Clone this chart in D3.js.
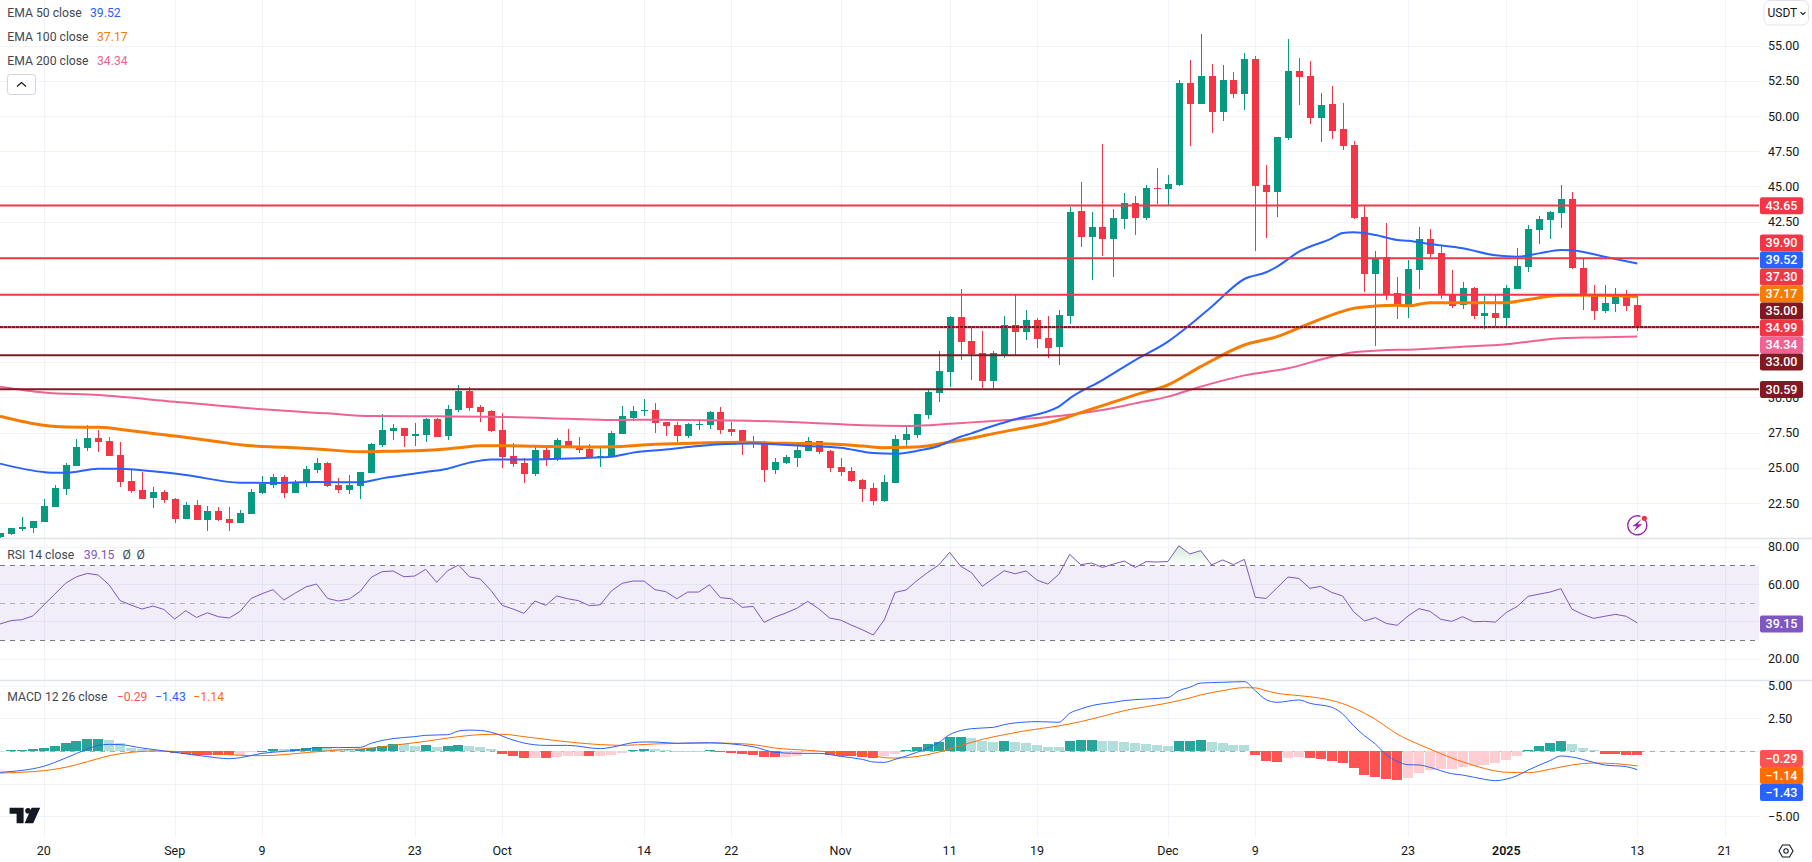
<!DOCTYPE html>
<html><head><meta charset="utf-8">
<script src="https://cdn.jsdelivr.net/npm/d3@7/dist/d3.min.js"></script>
<style>html,body{margin:0;padding:0;background:#fff;overflow:hidden}svg{display:block}text{font-family:Roboto,"Noto Sans",sans-serif}</style>
</head><body><svg id="c" width="1812" height="862"></svg>
<script>
// ---------- data; candle n is day n+firstDay, day 0 = 20 Aug 2024 ----------
const firstDay=-4;
const opens=[20.08,20.30,20.65,20.72,21.15,22.22,23.49,25.13,26.41,27.12,26.91,25.91,24.06,23.42,22.86,23.28,22.79,21.36,22.36,21.29,21.93,21.36,21.08,21.72,23.21,23.78,24.35,23.21,23.92,24.85,25.34,23.78,23.42,23.71,24.63,26.62,27.62,27.83,27.26,27.33,28.47,27.26,29.11,30.46,29.32,29.04,27.69,25.84,25.34,24.56,26.27,25.63,26.91,26.55,26.34,25.70,25.77,27.40,28.54,29.04,29.11,28.26,28.04,27.26,28.04,28.04,28.97,27.76,27.69,26.69,26.83,24.85,25.34,25.70,26.2,26.91,26.2,25.06,24.77,24.13,23.57,22.64,23.92,26.98,27.33,28.75,30.32,31.81,35.72,34.01,33.16,31.17,33.02,35.15,34.65,35.51,34.23,33.59,35.79,43.25,41.40,42.12,41.26,42.68,43.82,42.76,44.89,44.82,45.10,52.35,50.86,52.85,50.29,52.56,51.57,54.06,45.10,44.60,48.44,53.20,52.85,49.86,50.86,49.08,47.94,42.83,38.78,39.98,37.43,36.5,39.06,41.26,40.27,37.35,36.57,37.78,35.79,36.0,35.65,37.71,39.27,41.9,42.61,43.11,44.1,39.2,37.35,36.15,36.64,37.14,36.57];
const highs=[20.37,20.72,21.50,21.22,22.79,23.76,25.34,27.05,28.04,27.69,27.19,26.83,24.85,24.70,23.64,23.42,22.86,22.57,22.71,22.29,22.22,22.22,22.0,23.49,24.42,24.56,24.49,24.13,25.13,25.70,25.41,24.28,24.49,24.70,26.76,28.82,28.11,27.83,28.18,28.54,28.54,29.46,30.89,30.74,29.46,29.11,28.9,26.76,25.70,26.48,26.55,27.12,27.76,27.19,26.69,26.41,27.62,29.39,29.39,29.89,29.61,28.26,28.26,28.18,28.47,29.04,29.32,28.26,27.69,27.26,26.91,25.70,25.91,26.55,27.19,26.91,26.27,25.70,25.06,24.2,23.92,24.49,27.33,28.04,28.82,30.53,33.3,35.79,37.71,35.08,34.72,33.3,35.79,37.35,36.22,35.65,35.79,36.22,43.54,45.31,43.18,48.01,43.4,44.53,44.32,45.10,46.31,45.81,52.56,53.98,55.83,53.70,53.63,53.13,54.48,54.27,46.52,48.51,55.48,54.13,53.91,51.64,52.14,50.93,48.23,43.61,40.41,42.40,38.56,39.77,42.11,41.97,40.76,39.06,38.2,37.85,37.21,37.35,37.99,40.62,42.26,42.9,43.25,45.1,44.6,39.84,37.99,37.99,37.78,37.64,37.21];
const lows=[20.0,20.22,20.53,20.39,21.15,22.22,23.07,25.13,26.2,26.12,25.84,23.64,23.21,22.79,22.14,22.5,21.08,21.36,21.29,20.51,21.22,20.51,21.08,21.72,23.14,23.57,22.86,23.21,23.64,24.63,23.64,23.21,23.14,22.79,24.63,26.48,26.98,26.48,26.55,26.83,27.19,26.98,28.97,29.04,28.26,27.55,24.99,25.06,23.92,24.42,25.13,25.48,26.48,26.05,25.70,25.06,25.77,27.40,28.33,28.68,27.47,27.26,26.83,27.12,27.69,27.76,27.40,27.26,25.91,26.41,23.99,24.56,25.27,25.06,26.2,25.98,24.70,24.42,23.99,22.57,22.36,22.57,23.92,26.55,27.12,28.47,29.68,30.74,32.66,31.24,30.67,30.6,32.81,33.02,34.09,33.51,32.81,32.31,35.22,40.69,38.35,40.06,38.56,41.97,41.55,42.61,43.75,43.68,45.03,47.87,50.86,48.8,49.65,51.28,50.43,40.41,41.33,42.83,48.3,50.79,49.44,48.16,48.37,47.59,42.68,37.5,33.66,36.93,35.58,35.65,37.71,39.98,37.0,36.36,36.29,35.58,34.87,35.0,35.0,37.71,38.92,40.91,41.26,42.04,39.13,36.22,35.5,36.0,36.07,36.15,34.73];
const closes=[20.37,20.72,20.79,21.22,22.29,23.57,25.20,26.48,27.12,26.83,25.84,23.99,23.35,22.79,23.28,22.71,21.36,22.36,21.29,21.93,21.29,21.08,21.79,23.28,23.87,24.35,23.21,23.99,24.92,25.34,23.71,23.42,23.78,24.70,26.69,27.69,27.83,27.26,27.40,28.47,27.19,29.18,30.46,29.25,28.97,27.62,25.77,25.27,24.56,26.27,25.58,26.98,26.48,26.27,25.70,25.84,27.47,28.68,29.04,29.11,28.18,27.97,27.26,28.11,28.11,28.97,27.69,27.55,26.69,26.83,24.85,25.41,25.77,26.27,26.91,26.12,24.99,24.70,24.06,23.49,22.64,23.99,27.05,27.40,28.82,30.39,31.88,35.72,33.94,33.09,31.17,33.16,35.15,34.65,35.51,34.16,33.51,35.86,43.18,41.40,42.12,41.26,42.76,43.82,42.76,44.89,44.82,45.17,52.35,50.86,52.85,50.29,52.56,51.57,54.06,45.03,44.60,48.51,53.20,52.78,49.86,50.79,48.94,47.87,42.76,38.78,39.91,37.35,36.5,39.13,41.26,40.2,37.35,36.5,37.78,35.79,36.0,35.65,37.78,39.34,41.97,42.68,43.18,44.1,39.2,37.35,36.15,36.71,37.14,36.5,34.99];

const ema50Days=[-4,0,1,2,5,7,10,13,18,21,25,29,31,35,37,39,41,44,50,52,54,57,60,62,65,70,73,76,78,80,82,84,85,87,89,93,94,97,100,103,105,107,110,112,113,115,118,119,120,122,124,125,127,130,133,135,137,139,140,143,146];
const ema50=[25.3,24.7,24.65,24.65,24.94,24.94,24.75,24.49,23.94,23.92,23.99,23.97,24.25,24.7,24.94,25.37,25.6,25.6,25.72,25.79,26.08,26.3,26.55,26.67,26.72,26.55,26.43,26.05,26.0,26.2,26.55,27.21,27.45,27.99,28.45,29.35,29.94,31.24,32.66,33.97,35.15,36.45,38.42,38.9,39.3,40.36,41.31,41.69,41.74,41.55,41.19,41.14,40.9,40.6,40.1,40.0,40.24,40.48,40.46,40.0,39.52];
const ema100Days=[-4,0,2,5,8,12,16,18,22,25,29,31,36,38,40,42,45,50,52,56,61,64,68,72,75,77,79,81,83,85,87,93,95,97,100,103,106,110,113,116,119,120,122,124,125,127,130,134,136,139,142,146];
const ema100=[28.66,28.02,27.9,27.88,27.64,27.26,26.86,26.64,26.46,26.34,26.15,26.17,26.29,26.43,26.57,26.57,26.53,26.48,26.5,26.67,26.79,26.81,26.74,26.69,26.55,26.43,26.46,26.55,26.83,27.1,27.43,28.4,28.92,29.42,30.18,30.89,32.19,33.73,34.32,35.27,36.12,36.33,36.5,36.55,36.52,36.74,36.74,36.74,36.97,37.26,37.26,37.17];
const ema200Days=[-4,0,5,12,20,26,30,36,41,48,52,56,63,70,75,79,81,83,85,87,93,97,100,103,106,110,114,118,120,123,125,130,134,136,139,142,146];
const ema200=[30.77,30.36,30.17,29.70,29.16,28.87,28.68,28.66,28.63,28.49,28.4,28.42,28.37,28.21,28.02,27.97,28.02,28.14,28.23,28.33,28.68,29.11,29.58,30.06,30.77,31.57,32.07,32.9,33.21,33.37,33.4,33.61,33.78,33.96,34.2,34.27,34.34];

const levelsRed=[43.65,39.90,37.30,34.99];
const levelsDark=[35.00,33.00,30.59];

const rsi=[38.6,40.4,40.9,42.9,48.75,54.5,60.4,63.9,65.7,64.8,59.5,51.1,48.75,46.6,48.2,46.4,41.25,45.7,42.1,44.6,42.5,41.8,45.4,52.3,54.8,57.0,51.4,55,58.4,60,52.3,50.9,52,56.1,63.6,66.6,67,63.9,64.3,67.9,60.9,67.1,70.2,63.9,62.7,56.4,48.6,46.6,44.3,50.9,48.6,53.6,52.1,51.1,48.4,48.9,56.25,60.4,61.6,61.6,57,55.9,52.1,55.7,55.7,59.6,52.7,52.1,47.5,48,39.5,42.3,44.5,47,50.7,46.8,41.8,40.7,38,35.5,32.7,40.7,55.5,56.8,61.8,66.25,70.2,77,69.6,66.1,58.75,63,67.1,65.5,67,62.1,60,65.2,75.9,70.4,71.25,68.9,70.7,72.3,68.9,72,71.8,72.1,80.5,76.1,77.9,70.2,72.9,70.4,73.2,52.9,52.3,58,63.75,63,57.7,58.75,55.5,53.6,45.2,40.2,42,38.9,37.9,42.9,46.8,45.4,41.1,40,42.5,39.8,40,39.6,44.8,48,53.4,54.6,55.7,57.5,46.6,43.75,41.6,42.7,43.75,42.7,39.15];

const hist=[-.07,.05,.1,.18,.26,.41,.64,.79,.93,.95,.87,.64,.23,.15,.1,.03,-.18,-.26,-.28,-.29,-.33,-.34,-.28,-.1,.02,.18,.15,.19,.26,.33,.26,.18,.15,.18,.26,.38,.52,.51,.41,.43,.33,.41,.49,.41,.33,.18,-.2,-.36,-.51,-.5,-.52,-.43,-.36,-.35,-.37,-.36,-.28,-.13,.1,.18,.17,.08,.03,.02,.01,.05,-.05,-.13,-.2,-.28,-.43,-.44,-.43,-.42,-.1,-.05,-.28,-.36,-.41,-.43,-.51,-.41,-.2,.1,.33,.56,.72,1.1,1.11,1.02,.79,.72,.73,.72,.64,.49,.33,.32,.79,.87,.88,.79,.78,.72,.64,.56,.49,.41,.79,.8,.87,.72,.64,.49,.48,-.28,-.74,-.82,-.51,-.43,-.51,-.59,-.74,-.89,-1.28,-1.81,-1.97,-2.12,-2.2,-2.04,-1.66,-1.43,-1.35,-1.34,-1.2,-1.12,-1.05,-.89,-.66,-.36,.1,.41,.64,.79,.56,.26,.05,-.2,-.21,-.27,-.29];

const macdDays=[-4,0,2,4,5,6,7,9,12,15,17,18,20,22,24,25,27,29,30,32,34,35,37,38,39,40,41,43,44,46,48,51,52,54,55,56,58,61,63,65,67,69,71,73,75,76,77,78,80,82,83,84,85,87,88,90,91,93,94,95,96,98,99,101,103,104,105,106,108,110,111,112,113,115,116,118,119,120,121,122,123,124,125,126,127,129,130,132,133,134,135,136,138,139,140,142,143,145,146];
const macdLine=[-1.63,-1.17,-.54,.15,.43,.51,.49,.23,-.1,-.43,-.59,-.51,-.18,-.03,.13,.26,.26,.28,.59,.95,1.1,1.2,1.25,1.53,1.6,1.58,1.43,.84,.61,.43,.43,.18,.28,.64,.69,.69,.59,.64,.54,.33,-.1,-.18,-.18,-.41,-.64,-.84,-.87,-.64,-.1,.64,1.25,1.56,1.71,1.81,2.02,2.22,2.25,2.2,2.89,3.22,3.47,3.73,3.86,3.98,4.09,4.62,4.88,5.2,5.26,5.31,4.62,3.93,3.73,3.91,3.65,3.35,2.84,1.94,1.17,.54,-.28,-.79,-1.05,-1.07,-1.25,-1.74,-1.84,-2.17,-2.27,-2.15,-1.89,-1.46,-.74,-.38,-.46,-.87,-1.07,-1.2,-1.43];
const signalDays=[-4,-1,0,2,4,6,8,10,12,15,18,20,24,27,29,32,35,38,41,42,44,47,51,53,56,61,63,65,67,70,73,76,77,78,81,82,84,86,88,90,93,95,97,99,103,105,106,108,110,111,112,113,115,117,119,120,122,124,125,127,129,131,133,134,136,138,140,142,144,146];
const signalLine=[-1.69,-1.58,-1.51,-1.25,-.82,-.36,-.1,0,-.03,-.18,-.33,-.36,-.13,.08,.15,.43,.74,1.1,1.28,1.28,1.1,.79,.49,.43,.54,.61,.59,.49,.23,.05,-.13,-.36,-.51,-.54,-.28,-.08,.41,.89,1.25,1.56,1.92,2.25,2.66,3.09,3.68,4.06,4.29,4.62,4.85,4.83,4.62,4.42,4.24,4.04,3.63,3.3,2.43,1.3,.87,.15,-.54,-1.1,-1.53,-1.63,-1.66,-1.4,-1.07,-.92,-.97,-1.14];

const priceTicks=[55,52.5,50,47.5,45,42.5,40,37.5,35,32.5,30,27.5,25,22.5];
const priceTickLabels=["55.00","52.50","50.00","47.50","45.00","42.50","","","","","30.00","27.50","25.00","22.50"];
const rsiTicks=[80,60,40,20];
const macdTicks=[5,2.5,0,-2.5,-5];
const macdTickLabels=["5.00","2.50","","","−5.00"];
const timeDays=[0,12,20,34,42,55,63,73,83,91,103,111,125,134,146,154];
const timeLabels=["20","Sep","9","23","Oct","14","22","Nov","11","19","Dec","9","23","2025","13","21"];

const priceTags=[[43.65,"43.65","#f23645"],[30.59,"30.59","#801922"]];
const stackedTags=[[39.90,"39.90","#f23645"],[39.52,"39.52","#2962ff"],[37.30,"37.30","#f23645"],[37.17,"37.17","#f57c00"],[35.00,"35.00","#801922"],[34.99,"34.99","#f23645"],[34.34,"34.34","#f06292"],[33.00,"33.00","#801922"]];
const macdTags=[["−0.29","#ff5252"],["−1.14","#ff6d00"],["−1.43","#2962ff"]];
const macdTagVals=[-0.29,-1.14,-1.43];

// ---------- layout ----------
const W=1812,H=862,paneR=1759,mainB=538,rsiB=680,macdB=837;
const svg=d3.select("#c");
const x=d3.scaleLinear().domain([0,146]).range([43.7,1637.3]);
const y=d3.scaleLinear().domain([55,22.5]).range([45.7,503]);
const yR=d3.scaleLinear().domain([80,20]).range([546.7,658.7]);
const yM=d3.scaleLinear().domain([5,-5]).range([685.7,816.3]);
const GRID="#f0f3fa",SEP="#e0e3eb",TXT="#131722",UP="#089981",DN="#f23645";
const bg=svg.append("g");

// grids
bg.selectAll("line.v").data(timeDays).join("line").attr("x1",d=>Math.round(x(d))+.5).attr("x2",d=>Math.round(x(d))+.5).attr("y1",0).attr("y2",macdB).attr("stroke",GRID);
bg.selectAll("line.h").data(priceTicks.filter(t=>y(t)>0)).join("line").attr("class","h").attr("x1",0).attr("x2",paneR).attr("y1",d=>Math.round(y(d))+.5).attr("y2",d=>Math.round(y(d))+.5).attr("stroke",GRID);
bg.append("g").selectAll("line").data(rsiTicks).join("line").attr("x1",0).attr("x2",paneR).attr("y1",d=>Math.round(yR(d))+.5).attr("y2",d=>Math.round(yR(d))+.5).attr("stroke",GRID);
bg.append("g").selectAll("line").data(macdTicks).join("line").attr("x1",0).attr("x2",paneR).attr("y1",d=>Math.round(yM(d))+.5).attr("y2",d=>Math.round(yM(d))+.5).attr("stroke",GRID);
// pane separators
[mainB,rsiB].forEach(v=>bg.append("line").attr("x1",0).attr("x2",W).attr("y1",v+.5).attr("y2",v+.5).attr("stroke",SEP).attr("stroke-width",1.5));

// clip
const defs=svg.append("defs");
defs.append("clipPath").attr("id","mainClip").append("rect").attr("x",0).attr("y",0).attr("width",paneR).attr("height",mainB);
defs.append("clipPath").attr("id","obClip").append("rect").attr("x",0).attr("y",0).attr("width",paneR).attr("height",yR(70));
const grad=defs.append("linearGradient").attr("id","ob").attr("gradientUnits","userSpaceOnUse").attr("x1",0).attr("x2",0).attr("y1",yR(82)).attr("y2",yR(70));
grad.append("stop").attr("offset",0).attr("stop-color","#4caf50").attr("stop-opacity",.28);
grad.append("stop").attr("offset",1).attr("stop-color","#4caf50").attr("stop-opacity",0);

// candles
const main=svg.append("g").attr("clip-path","url(#mainClip)");
const candles=opens.map((o,i)=>({d:i+firstDay,o,h:highs[i],l:lows[i],c:closes[i]}));
const cg=main.selectAll("g.k").data(candles).join("g").attr("shape-rendering","crispEdges");
cg.append("rect").attr("x",d=>Math.round(x(d.d))).attr("width",1).attr("y",d=>y(d.h)).attr("height",d=>y(d.l)-y(d.h)).attr("fill",d=>d.c>=d.o?UP:DN);
cg.append("rect").attr("x",d=>Math.round(x(d.d))-3).attr("width",7).attr("y",d=>Math.round(y(Math.max(d.o,d.c)))).attr("height",d=>Math.max(1,Math.round(Math.abs(y(d.o)-y(d.c))))).attr("fill",d=>d.c>=d.o?UP:DN);

// EMA lines
const ln=(xs,ys,Y,cv)=>d3.line().x((d,i)=>x(xs[i])).y(d=>Y(d)).curve(cv||d3.curveMonotoneX)(ys);
main.append("path").attr("d",ln(ema200Days,ema200,y)).attr("fill","none").attr("stroke","#f06292").attr("stroke-width",2);
main.append("path").attr("d",ln(ema100Days,ema100,y)).attr("fill","none").attr("stroke","#f57c00").attr("stroke-width",3);
main.append("path").attr("d",ln(ema50Days,ema50,y)).attr("fill","none").attr("stroke","#2962ff").attr("stroke-width",2);

// horizontal levels
main.selectAll("line.r").data(levelsRed).join("line").attr("x1",0).attr("x2",paneR).attr("y1",d=>y(d)).attr("y2",d=>y(d)).attr("stroke","#f23645").attr("stroke-width",2);
main.selectAll("line.dk").data(levelsDark).join("line").attr("x1",0).attr("x2",paneR).attr("y1",d=>y(d)).attr("y2",d=>y(d)).attr("stroke","#801922").attr("stroke-width",2).attr("stroke-dasharray",d=>d===35?"3 1":null);

// RSI pane
svg.append("rect").attr("x",0).attr("width",paneR).attr("y",yR(70)).attr("height",yR(30)-yR(70)).attr("fill","#7e57c2").attr("fill-opacity",.1);
const dash=(v,op)=>svg.append("line").attr("x1",0).attr("x2",paneR).attr("y1",Math.round(yR(v))+.5).attr("y2",Math.round(yR(v))+.5).attr("stroke","#787b86").attr("stroke-opacity",op).attr("stroke-dasharray","5 5");
dash(70,1);dash(50,.55);dash(30,1);
const rsiDays=rsi.map((d,i)=>i+firstDay);
svg.append("path").attr("clip-path","url(#obClip)").attr("fill","url(#ob)")
 .attr("d",d3.area().x((d,i)=>x(rsiDays[i])).y0(yR(70)).y1(d=>yR(d))(rsi));
svg.append("path").attr("d",ln(rsiDays,rsi,yR,d3.curveLinear)).attr("fill","none").attr("stroke","#7e57c2").attr("stroke-width",1);

// MACD pane
svg.append("line").attr("x1",0).attr("x2",paneR).attr("y1",Math.round(yM(0))+.5).attr("y2",Math.round(yM(0))+.5).attr("stroke","#787b86").attr("stroke-opacity",.6).attr("stroke-dasharray","5 5");
const hCol=(v,i)=>{const p=i?hist[i-1]:-9;const rising=v>p;return v>=0?(rising?"#26a69a":"#b2dfdb"):(rising?"#ffcdd2":"#ff5252");};
svg.append("g").attr("shape-rendering","crispEdges").selectAll("rect").data(hist).join("rect")
 .attr("x",(d,i)=>Math.round(x(i+firstDay)-5)).attr("width",10)
 .attr("y",d=>Math.min(yM(d),yM(0))).attr("height",d=>Math.max(1,Math.abs(yM(d)-yM(0))))
 .attr("fill",hCol);
svg.append("path").attr("d",ln(signalDays,signalLine,yM)).attr("fill","none").attr("stroke","#ff6d00").attr("stroke-width",1);
svg.append("path").attr("d",ln(macdDays,macdLine,yM)).attr("fill","none").attr("stroke","#2962ff").attr("stroke-width",1);

// axes
const ax=svg.append("g").attr("font-size",12.5).attr("fill",TXT).attr("text-anchor","start");
priceTickLabels.forEach((t,i)=>{if(t)ax.append("text").attr("x",1768).attr("y",y(priceTicks[i])).attr("dy","0.36em").text(t);});
rsiTicks.forEach(t=>ax.append("text").attr("x",1768).attr("y",yR(t)).attr("dy","0.36em").text(d3.format(".2f")(t)));
macdTickLabels.forEach((t,i)=>{if(t)ax.append("text").attr("x",1768).attr("y",yM(macdTicks[i])).attr("dy","0.36em").text(t);});
const tl=svg.append("g").attr("font-size",12.5).attr("fill",TXT).attr("text-anchor","middle");
timeLabels.forEach((t,i)=>tl.append("text").attr("x",x(timeDays[i])).attr("y",850.5).attr("dy","0.36em").attr("font-weight",t==="2025"?600:400).text(t));

// value tags
const tag=(cy,label,col)=>{const g=svg.append("g");
 g.append("rect").attr("x",1760).attr("y",cy-8.5).attr("width",43).attr("height",17).attr("rx",2).attr("fill",col);
 g.append("text").attr("x",1781.5).attr("y",cy).attr("dy","0.36em").attr("text-anchor","middle").attr("font-size",12.5).attr("font-weight",500).attr("fill","#fff").text(label);};
priceTags.forEach(t=>tag(y(t[0])+.4,t[1],t[2]));
const tagTop=y(stackedTags[0][0])-15.2;
stackedTags.forEach((t,i)=>tag(tagTop+i*17,t[1],t[2]));
tag(yR(39.15)+1,"39.15","#7e57c2");
macdTags.forEach((t,i)=>tag(yM(macdTagVals[0])+3.6+i*17,t[0],t[1]));

// legends
const leg=(ly,parts)=>{const g=svg.append("g").attr("font-size",12.2);parts.forEach(p=>g.append("text").attr("x",p[0]).attr("y",ly).attr("dy","0.36em").attr("fill",p[2]).text(p[1]));};
const LG="#434651";
leg(12.7,[[7.3,"EMA 50 close",LG],[90,"39.52","#2962ff"]]);
leg(36.7,[[7.3,"EMA 100 close",LG],[97,"37.17","#f57c00"]]);
leg(60.7,[[7.3,"EMA 200 close",LG],[97,"34.34","#f06292"]]);
leg(555,[[7.3,"RSI 14 close",LG],[83.8,"39.15","#7e57c2"],[122.5,"Ø",LG],[136.6,"Ø",LG]]);
leg(696.7,[[7.3,"MACD 12 26 close",LG],[116.7,"−0.29","#ff5252"],[155,"−1.43","#2962ff"],[193.3,"−1.14","#ff6d00"]]);

// collapse button
svg.append("rect").attr("x",7.5).attr("y",74.5).attr("width",28).attr("height",20).attr("rx",3).attr("fill","#fff").attr("stroke","#d1d4dc");
svg.append("path").attr("d","M17 86.5l4.5-4 4.5 4").attr("fill","none").attr("stroke","#131722").attr("stroke-width",1.2);
// currency button
svg.append("rect").attr("x",1764).attr("y",.5).attr("width",44.5).attr("height",24.5).attr("rx",6).attr("fill","#fff").attr("stroke","#e0e3eb");
svg.append("text").attr("x",1767.5).attr("y",12.8).attr("dy","0.36em").attr("font-size",12).attr("fill",TXT).text("USDT");
svg.append("path").attr("d","M1800.5 12.2l2.5 2.3 2.5-2.3").attr("fill","none").attr("stroke",TXT).attr("stroke-width",1.1);
// TradingView mark
const lg=svg.append("g").attr("transform","translate(9.6,807.7)").attr("fill","#131722");
lg.append("path").attr("d","M0 0H14V15.6H7V6H0Z");lg.append("circle").attr("cx",18.4).attr("cy",3).attr("r",2.8);lg.append("path").attr("d","M30.6 0L23.6 15.6H15L22 0Z");
// lightning badge
const bx=1637.3,by=525.3;
svg.append("path").attr("d",d3.arc()({innerRadius:8.8,outerRadius:10.2,startAngle:0.9,endAngle:Math.PI*2+0.35})).attr("transform",`translate(${bx},${by})`).attr("fill","#9c27b0");
svg.append("path").attr("d",`M${bx+4} ${by-6}L${bx-5} ${by+1}H${bx-.5}L${bx-3.5} ${by+6}L${bx+5} ${by-1}H${bx+.5}Z`).attr("fill","#9c27b0");
svg.append("circle").attr("cx",bx+7).attr("cy",by-7).attr("r",2.6).attr("fill","#f23645");
// settings hexagon
const sx=1786,sy=851;
svg.append("path").attr("d",`M${sx-7} ${sy}L${sx-3.5} ${sy-6}H${sx+3.5}L${sx+7} ${sy}L${sx+3.5} ${sy+6}H${sx-3.5}Z`).attr("fill","none").attr("stroke",TXT).attr("stroke-width",1.1);
svg.append("circle").attr("cx",sx).attr("cy",sy).attr("r",2.2).attr("fill","none").attr("stroke",TXT).attr("stroke-width",1.1);
</script></body></html>
